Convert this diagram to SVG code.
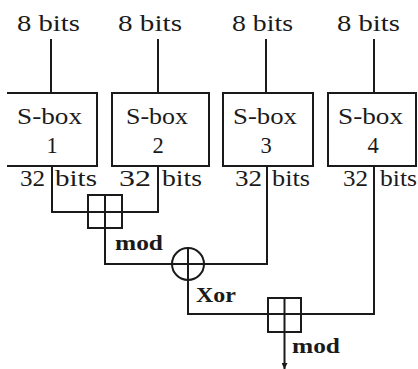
<svg xmlns="http://www.w3.org/2000/svg" width="418" height="369" viewBox="0 0 418 369">
<style>
.t{font-size:22.5px;fill:#1a1a1a}
.b{font-size:21px;font-weight:bold;fill:#1a1a1a}
.ln{fill:none;stroke:#1a1a1a;stroke-width:2}
</style>
<defs>
<marker id="arr" viewBox="0 0 10 10" refX="10" refY="5" markerWidth="6" markerHeight="6" orient="auto" markerUnits="userSpaceOnUse">
<path d="M0,0 L10,5 L0,10 z" fill="#1a1a1a"/>
</marker>
</defs>
<rect width="418" height="369" fill="#ffffff"/>
<g font-family="Liberation Serif, Times New Roman, serif">
<g id="sbox1">
<path class="ln" d="M7,93 H97 V166 H7"/>
<text class="t" x="17" y="124" textLength="65" lengthAdjust="spacingAndGlyphs">S-box</text>
<text class="t" x="52" y="153" text-anchor="middle">1</text>
</g>
<g id="sbox2">
<rect class="ln" x="112" y="93" width="97" height="73"/>
<text class="t" x="126" y="124" textLength="62" lengthAdjust="spacingAndGlyphs">S-box</text>
<text class="t" x="158" y="153" text-anchor="middle">2</text>
</g>
<g id="sbox3">
<rect class="ln" x="223" y="93" width="90" height="73"/>
<text class="t" x="233" y="124" textLength="64" lengthAdjust="spacingAndGlyphs">S-box</text>
<text class="t" x="266" y="153" text-anchor="middle">3</text>
</g>
<g id="sbox4">
<rect class="ln" x="328" y="93" width="88" height="73"/>
<text class="t" x="338" y="124" textLength="65" lengthAdjust="spacingAndGlyphs">S-box</text>
<text class="t" x="373" y="153" text-anchor="middle">4</text>
</g>
<g id="labels">
<text class="t" x="17" y="31" textLength="63" lengthAdjust="spacingAndGlyphs">8 bits</text>
<text class="t" x="118" y="31" textLength="64" lengthAdjust="spacingAndGlyphs">8 bits</text>
<text class="t" x="232" y="31" textLength="61" lengthAdjust="spacingAndGlyphs">8 bits</text>
<text class="t" x="337" y="31" textLength="63" lengthAdjust="spacingAndGlyphs">8 bits</text>
<text class="t" x="20" y="186" textLength="25" lengthAdjust="spacingAndGlyphs">32</text>
<text class="t" x="55" y="186" textLength="42" lengthAdjust="spacingAndGlyphs">bits</text>
<text class="t" x="119" y="186" textLength="32" lengthAdjust="spacingAndGlyphs">32</text>
<text class="t" x="162" y="186" textLength="40" lengthAdjust="spacingAndGlyphs">bits</text>
<text class="t" x="235" y="186" textLength="27" lengthAdjust="spacingAndGlyphs">32</text>
<text class="t" x="272" y="186" textLength="38" lengthAdjust="spacingAndGlyphs">bits</text>
<text class="t" x="343" y="186" textLength="25" lengthAdjust="spacingAndGlyphs">32</text>
<text class="t" x="380" y="186" textLength="37" lengthAdjust="spacingAndGlyphs">bits</text>
</g>
<g id="mod1">
<rect class="ln" x="88" y="195" width="34" height="33"/>
<line class="ln" x1="105" y1="195" x2="105" y2="228"/>
<text class="b" x="115" y="250" textLength="48" lengthAdjust="spacingAndGlyphs">mod</text>
</g>
<g id="xor">
<circle class="ln" cx="188" cy="264" r="16"/>
<line class="ln" x1="188" y1="247" x2="188" y2="281"/>
<text class="b" x="196" y="302" textLength="40" lengthAdjust="spacingAndGlyphs">Xor</text>
</g>
<g id="mod2">
<rect class="ln" x="268" y="298" width="33" height="34"/>
<line class="ln" x1="284.5" y1="298" x2="284.5" y2="332"/>
<text class="b" x="292" y="353" textLength="48" lengthAdjust="spacingAndGlyphs">mod</text>
</g>
</g>
<g id="connectors">
<line class="ln" x1="51" y1="39" x2="51" y2="93"/>
<line class="ln" x1="158" y1="39" x2="158" y2="93"/>
<line class="ln" x1="266" y1="39" x2="266" y2="93"/>
<line class="ln" x1="374" y1="39" x2="374" y2="93"/>
<path class="ln" d="M52,166 V212 H158 V166"/>
<path class="ln" d="M105,228 V264 H267 V166"/>
<path class="ln" d="M188,281 V314 H374 V166"/>
<line class="ln" x1="284.5" y1="332" x2="284.5" y2="369" marker-end="url(#arr)"/>
</g>
</svg>
